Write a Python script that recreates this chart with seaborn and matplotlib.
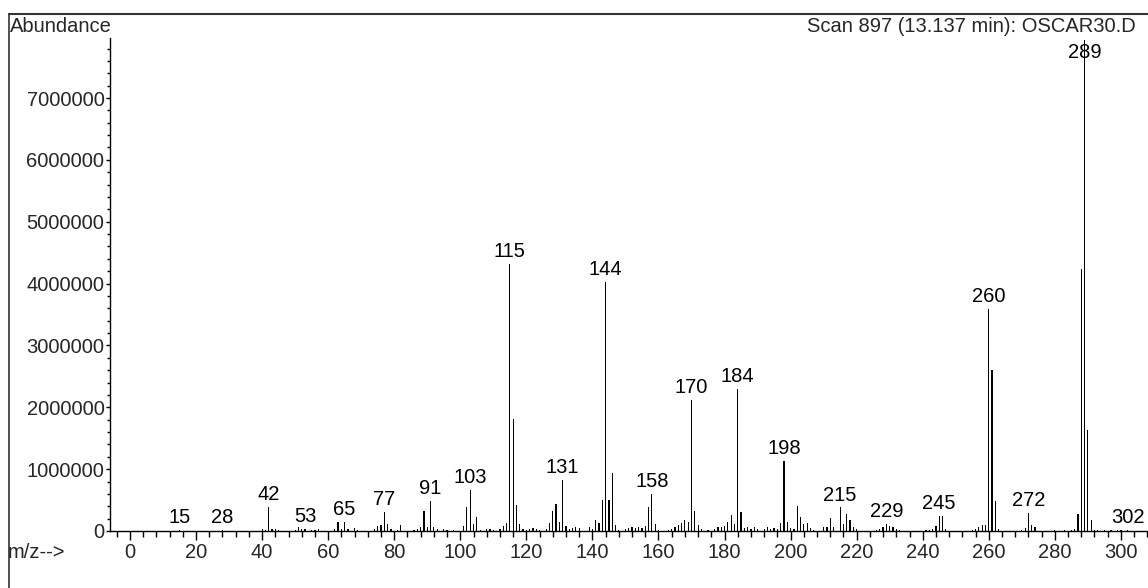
import numpy as np
import pandas as pd
import matplotlib
matplotlib.use("Agg")
import matplotlib.pyplot as plt
from matplotlib.lines import Line2D
from matplotlib.ticker import MultipleLocator, FuncFormatter
import seaborn as sns

# ---------------- data (m/z, abundance in counts) ----------------
mz = [15, 28, 40, 41, 42, 43, 44, 45, 50, 51, 52, 53, 55, 56, 57, 62, 63, 64, 65, 66,
      68, 69, 74, 75, 76, 77, 78, 79, 81, 82, 86, 87, 88, 89, 90, 91, 92, 93, 95, 96,
      98, 101, 102, 103, 104, 105, 106, 108, 109, 110, 112, 113, 114, 115, 116, 117, 118, 119, 120, 121,
      122, 123, 124, 126, 127, 128, 129, 130, 131, 132, 133, 134, 135, 136, 139, 140, 141, 142, 143, 144,
      145, 146, 147, 148, 150, 151, 152, 153, 154, 155, 156, 157, 158, 159, 160, 163, 164, 165, 166, 167,
      168, 169, 170, 171, 172, 173, 175, 177, 178, 179, 180, 181, 182, 183, 184, 185, 186, 187, 188, 189,
      190, 192, 193, 194, 195, 196, 197, 198, 199, 200, 201, 202, 203, 204, 205, 206, 207, 210, 211, 212,
      213, 215, 216, 217, 218, 219, 220, 226, 227, 228, 229, 230, 231, 232, 233, 241, 242, 243, 244, 245,
      246, 247, 255, 256, 257, 258, 259, 260, 261, 262, 263, 270, 271, 272, 273, 274, 280, 283, 285, 286,
      287, 288, 289, 290, 291, 292, 293, 295, 297, 299, 300, 302]
abundance_m = [0.015, 0.02, 0.04, 0.02, 0.39, 0.03, 0.04, 0.02, 0.02, 0.06, 0.04, 0.03, 0.02, 0.02, 0.03, 0.03, 0.14, 0.04, 0.15, 0.03,
               0.05, 0.02, 0.03, 0.08, 0.09, 0.31, 0.12, 0.03, 0.02, 0.10, 0.02, 0.03, 0.06, 0.33, 0.06, 0.48, 0.06, 0.03, 0.03, 0.02,
               0.02, 0.08, 0.38, 0.67, 0.11, 0.23, 0.02, 0.03, 0.03, 0.02, 0.03, 0.08, 0.13, 4.32, 1.81, 0.42, 0.12, 0.03, 0.02, 0.04,
               0.05, 0.03, 0.02, 0.04, 0.13, 0.33, 0.44, 0.15, 0.83, 0.08, 0.04, 0.05, 0.07, 0.05, 0.07, 0.04, 0.18, 0.13, 0.50, 4.02,
               0.50, 0.94, 0.10, 0.02, 0.04, 0.05, 0.06, 0.05, 0.07, 0.05, 0.08, 0.39, 0.60, 0.12, 0.02, 0.02, 0.04, 0.07, 0.10, 0.13,
               0.18, 0.14, 2.12, 0.32, 0.10, 0.03, 0.02, 0.04, 0.06, 0.07, 0.08, 0.15, 0.26, 0.12, 2.29, 0.31, 0.05, 0.07, 0.04, 0.06,
               0.04, 0.03, 0.06, 0.04, 0.05, 0.04, 0.13, 1.13, 0.15, 0.05, 0.04, 0.40, 0.23, 0.12, 0.13, 0.05, 0.02, 0.06, 0.07, 0.21,
               0.07, 0.38, 0.12, 0.27, 0.17, 0.06, 0.03, 0.02, 0.03, 0.06, 0.11, 0.08, 0.07, 0.04, 0.02, 0.02, 0.02, 0.03, 0.08, 0.24,
               0.25, 0.04, 0.02, 0.04, 0.06, 0.09, 0.09, 3.59, 2.60, 0.48, 0.04, 0.02, 0.05, 0.29, 0.10, 0.06, 0.01, 0.01, 0.02, 0.03,
               0.27, 4.24, 7.94, 1.63, 0.17, 0.02, 0.01, 0.01, 0.01, 0.01, 0.01, 0.02]
abundance = [v * 1e6 for v in abundance_m]

labelled_mz = [15, 28, 42, 53, 65, 77, 91, 103, 115, 131, 144, 158, 170, 184, 198,
               215, 229, 245, 260, 272, 289, 302]

title_left = "Abundance"
title_right = "Scan 897 (13.137 min): OSCAR30.D"
xaxis_text = "m/z-->"
x_ticks = list(range(0, 301, 20))
y_ticks = list(range(0, 7000001, 1000000))

# ---------------- styling ----------------
sns.set_style("ticks")
plt.rcParams["font.family"] = ["Liberation Sans", "DejaVu Sans"]
FS = 14.5

W, H = 1148, 588
fig = plt.figure(figsize=(W / 100, H / 100), dpi=100)
ax_left, ax_right = 110 / W, 1.0
ax_bottom, ax_top = (H - 531) / H, (H - 38) / H
ax = fig.add_axes([ax_left, ax_bottom, ax_right - ax_left, ax_top - ax_bottom])

df = pd.DataFrame({"mz": mz, "abundance": abundance})
sns.barplot(data=df, x="mz", y="abundance", native_scale=True, width=0.36,
            color="black", saturation=1, linewidth=0, errorbar=None, ax=ax)

YMAX = 7.97e6
ax.set_xlim(-6.05, 308.2)
ax.set_ylim(0, YMAX)
ax.set_xlabel("")
ax.set_ylabel("")

ax.set_xticks(x_ticks)
ax.xaxis.set_minor_locator(MultipleLocator(4))
ax.set_yticks(y_ticks)
ax.yaxis.set_minor_locator(MultipleLocator(200000))
ax.yaxis.set_major_formatter(FuncFormatter(lambda v, p: f"{int(round(v))}"))
ax.xaxis.set_major_formatter(FuncFormatter(lambda v, p: f"{int(round(v))}"))

ax.tick_params(axis="x", which="major", length=6.5, width=1, pad=2.5, labelsize=FS, color="black")
ax.tick_params(axis="x", which="minor", length=4.2, width=1, color="black")
ax.tick_params(axis="y", which="major", length=3, width=1, pad=1, labelsize=FS, color="black")
ax.tick_params(axis="y", which="minor", length=2.2, width=1, color="black")

for s in ["top", "right"]:
    ax.spines[s].set_visible(False)
for s in ["left", "bottom"]:
    ax.spines[s].set_linewidth(1)
    ax.spines[s].set_color("black")
ax.grid(False)
ax.set_facecolor("white")

# peak labels
ab_lookup = dict(zip(mz, abundance))
cap = YMAX * 0.945
for m in labelled_mz:
    top = ab_lookup[m]
    ax.annotate(str(m), (m, min(top, cap)), xytext=(0, 5), textcoords="offset points",
                ha="center", va="baseline", fontsize=FS, color="black", annotation_clip=False)

# header / footer texts
fig.text(10 / W, 1 - 32 / H, title_left, ha="left", va="baseline", fontsize=FS)
fig.text(1136 / W, 1 - 32 / H, title_right, ha="right", va="baseline", fontsize=FS)
fig.text(8 / W, 1 - 558 / H, xaxis_text, ha="left", va="baseline", fontsize=FS)

# outer frame (left and top)
fig.add_artist(Line2D([9 / W, 9 / W], [0, 1 - 13.5 / H], transform=fig.transFigure,
                      color="#333333", linewidth=1.2))
fig.add_artist(Line2D([9 / W, 1], [1 - 13.5 / H, 1 - 13.5 / H], transform=fig.transFigure,
                      color="#333333", linewidth=1.5))

fig.savefig("out.png", dpi=100, facecolor="white")
